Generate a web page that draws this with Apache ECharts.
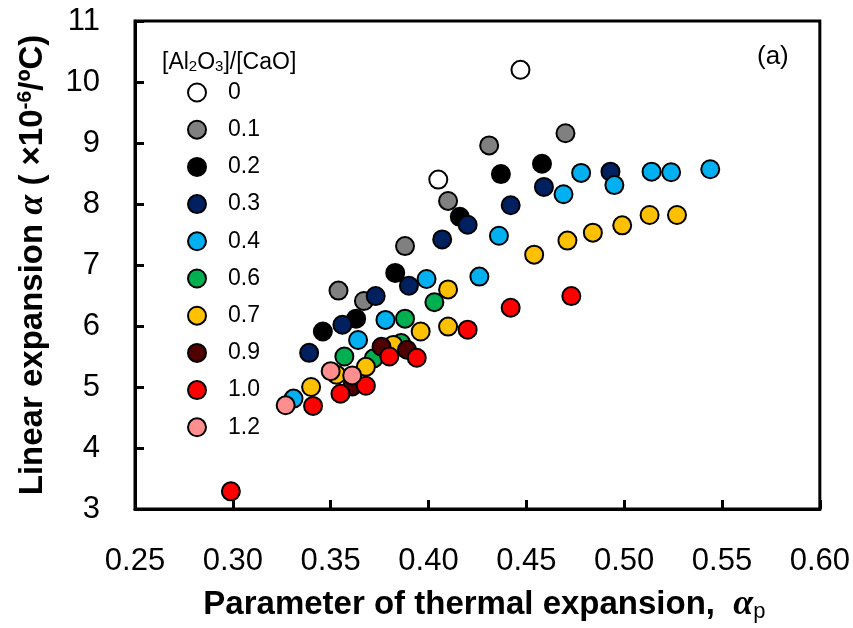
<!DOCTYPE html>
<html>
<head>
<meta charset="utf-8">
<title>Linear expansion vs thermal expansion parameter</title>
<script src="https://cdn.jsdelivr.net/npm/echarts@6/dist/echarts.min.js"></script>
<style>
  html, body { margin: 0; padding: 0; background: #fff; }
  #chart { width: 853px; height: 628px; }
</style>
</head>
<body>
<div id="chart"></div>
<script>
// [Al2O3]/[CaO] ratio groups
const ratios = ['0', '0.1', '0.2', '0.3', '0.4', '0.6', '0.7', '0.9', '1.0', '1.2'];
const fillColors = ['#FFFFFF', '#808080', '#000000', '#002060', '#00B0F0',
                    '#00B050', '#FFC000', '#500000', '#FF0000', '#FF8F8F'];

// [alpha_p, linear expansion (x10^-6/ºC)] per group
const r00 = [[0.447, 10.20], [0.405, 8.40]];
const r01 = [[0.470, 9.16], [0.431, 8.96], [0.410, 8.05], [0.388, 7.31], [0.354, 6.58], [0.367, 6.41]];
const r02 = [[0.458, 8.66], [0.437, 8.49], [0.416, 7.79], [0.383, 6.87], [0.363, 6.12], [0.346, 5.91]];
const r03 = [[0.493, 8.53], [0.459, 8.28], [0.442, 7.98], [0.420, 7.66], [0.407, 7.42], [0.390, 6.66],
             [0.373, 6.49], [0.356, 6.02], [0.339, 5.56]];
const r04 = [[0.544, 8.57], [0.524, 8.52], [0.514, 8.53], [0.495, 8.31], [0.478, 8.51], [0.469, 8.16],
             [0.436, 7.48], [0.426, 6.81], [0.399, 6.77], [0.378, 6.10], [0.364, 5.77], [0.331, 4.81]];
const r06 = [[0.403, 6.39], [0.388, 6.12], [0.357, 5.50], [0.386, 5.72], [0.372, 5.47]];
const r07 = [[0.527, 7.82], [0.513, 7.82], [0.499, 7.65], [0.484, 7.53], [0.471, 7.40], [0.454, 7.17],
             [0.410, 6.60], [0.410, 5.99], [0.396, 5.91], [0.382, 5.69], [0.368, 5.33], [0.353, 5.20],
             [0.340, 5.00]];
const r09 = [[0.376, 5.66], [0.389, 5.61], [0.361, 5.01]];
const r10 = [[0.473, 6.49], [0.442, 6.30], [0.420, 5.94], [0.394, 5.48], [0.380, 5.50], [0.368, 5.02],
             [0.355, 4.89], [0.341, 4.69], [0.299, 3.29]];
const r12 = [[0.350, 5.26], [0.361, 5.19], [0.327, 4.70]];

const groups = [r00, r01, r02, r03, r04, r06, r07, r09, r10, r12];

// axis ranges
const xMin = 0.25, xMax = 0.60, xStep = 0.05;
const yMin = 3, yMax = 11, yStep = 1;

const SANS = 'Liberation Sans, Arial, sans-serif';
const SERIF = 'Liberation Serif, Times New Roman, serif';

const chart = echarts.init(document.getElementById('chart'), null, { renderer: 'canvas' });

const series = groups.map((pts, i) => ({
  name: ratios[i],
  type: 'scatter',
  data: pts,
  symbol: 'circle',
  symbolSize: 18,
  itemStyle: { color: fillColors[i], borderColor: '#000', borderWidth: 2, opacity: 1 },
  emphasis: { disabled: true }
}));

const option = {
  backgroundColor: '#fff',
  animation: false,
  textStyle: { fontFamily: SANS, color: '#000' },
  title: {
    left: 157,
    top: 46,
    text: '[Al{sub|2}O{sub|3}]/[CaO]',
    textStyle: {
      fontSize: 23,
      fontWeight: 'normal',
      color: '#000',
      fontFamily: SANS,
      rich: {
        sub: { fontSize: 15, verticalAlign: 'bottom', padding: [8, 0, 0, 0],
               fontFamily: SANS, color: '#000' }
      }
    }
  },
  legend: {
    orient: 'vertical',
    left: 182,
    top: 76,
    itemWidth: 18,
    itemHeight: 18,
    itemGap: 14.2,
    icon: 'circle',
    selectedMode: false,
    data: ratios,
    textStyle: { fontSize: 23, color: '#000', padding: [0, 0, 0, 17], fontFamily: SANS }
  },
  grid: {
    left: 135, right: 33, top: 21, bottom: 114,
    show: true, borderColor: '#000', borderWidth: 3, containLabel: false
  },
  xAxis: {
    type: 'value',
    min: xMin, max: xMax, interval: xStep,
    axisLine: { show: true, onZero: false, lineStyle: { color: '#000', width: 3 } },
    axisTick: { show: true, inside: true, length: 9, lineStyle: { color: '#000', width: 3 } },
    splitLine: { show: false },
    axisLabel: {
      margin: 37, fontSize: 31, color: '#000', fontFamily: SANS,
      formatter: v => v.toFixed(2)
    },
    name: '{b|Parameter of thermal expansion,  }{a|α}{p|p}',
    nameLocation: 'middle',
    nameGap: 78,
    nameTextStyle: {
      padding: [0, 0, 0, 14],
      rich: {
        b: { fontSize: 33, fontWeight: 'bold', color: '#000', fontFamily: SANS },
        a: { fontSize: 36, fontWeight: 'bold', fontStyle: 'italic', color: '#000', fontFamily: SERIF },
        p: { fontSize: 22, color: '#000', verticalAlign: 'bottom', padding: [10, 0, 0, 0], fontFamily: SANS }
      }
    }
  },
  yAxis: {
    type: 'value',
    min: yMin, max: yMax, interval: yStep,
    axisLine: { show: true, onZero: false, lineStyle: { color: '#000', width: 3 } },
    axisTick: { show: true, inside: true, length: 9, lineStyle: { color: '#000', width: 3 } },
    splitLine: { show: false },
    axisLabel: { margin: 35, fontSize: 31, color: '#000', fontFamily: SANS },
    name: '{b|Linear expansion }{a|α}{b| ( ×10}{s|-6}{b|/ºC)}',
    nameLocation: 'middle',
    nameGap: 84,
    nameRotate: 90,
    nameTextStyle: {
      rich: {
        b: { fontSize: 33, fontWeight: 'bold', color: '#000', fontFamily: SANS },
        a: { fontSize: 36, fontWeight: 'bold', fontStyle: 'italic', color: '#000', fontFamily: SERIF },
        s: { fontSize: 21, fontWeight: 'bold', color: '#000', verticalAlign: 'top', padding: [0, 0, 12, 0],
             fontFamily: SANS }
      }
    }
  },
  graphic: [{
    type: 'text',
    left: 757,
    top: 44,
    style: { text: '(a)', fontSize: 26, fill: '#000', fontFamily: SANS }
  }],
  series: series
};

chart.setOption(option);
</script>
</body>
</html>
